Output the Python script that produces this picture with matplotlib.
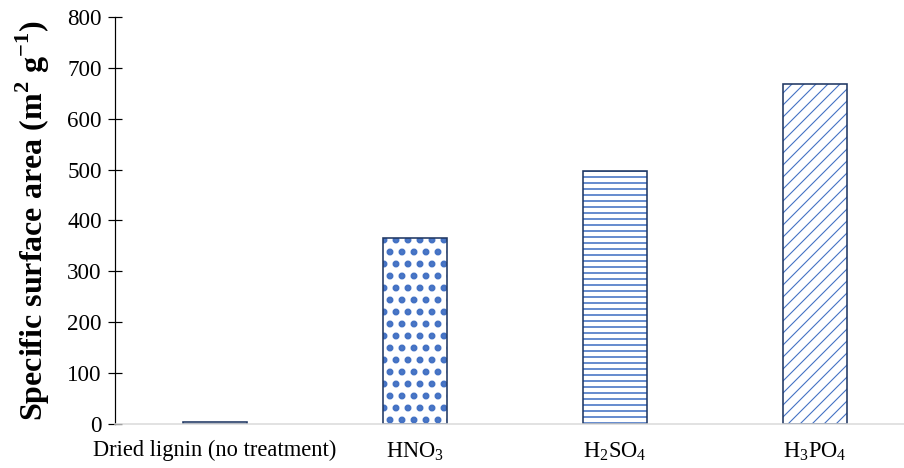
"""Specific surface area of lignin-derived carbons by activating acid."""
import matplotlib
matplotlib.use("Agg")
import matplotlib.pyplot as plt

categories = ["Dried lignin (no treatment)", "HNO$_3$", "H$_2$SO$_4$", "H$_3$PO$_4$"]
surface_area = [3, 366, 497, 668]
hatches = ["", ".", "--", "//"]
hatch_widths = [1.0, 4.5, 1.6, 1.1]
yticks = [0, 100, 200, 300, 400, 500, 600, 700, 800]

plt.rcParams["font.family"] = ["Liberation Serif", "DejaVu Serif"]
plt.rcParams["mathtext.fontset"] = "custom"
plt.rcParams["mathtext.rm"] = "Liberation Serif"
plt.rcParams["mathtext.bf"] = "Liberation Serif:bold"

DPI = 72
fig = plt.figure(figsize=(904 / DPI, 468 / DPI), dpi=DPI)
ax = fig.add_axes([0.127, 0.094, 0.873, 0.870])

x = list(range(len(categories)))
# hatched fill first, then the dark outline on top
for xi, v, h, hw in zip(x, surface_area, hatches, hatch_widths):
    with plt.rc_context({"hatch.linewidth": hw}):
        ax.bar(xi, v, width=0.32, color="white", edgecolor="#4472C4", hatch=h, linewidth=0)
ax.bar(x, surface_area, width=0.32, fill=False, edgecolor="#203864", linewidth=1.6)

ax.set_xlim(-0.5, 3.445)
ax.set_ylim(0, 800)
ax.set_yticks(yticks)
ax.set_xticks(x)
ax.set_xticklabels(categories, fontsize=22.5)
ax.tick_params(axis="y", labelsize=23, direction="inout", length=14, width=1.2,
               color="black", pad=6)
ax.tick_params(axis="x", length=0, pad=16)
for s in ["top", "right"]:
    ax.spines[s].set_visible(False)
ax.spines["left"].set_color("black")
ax.spines["left"].set_linewidth(1.2)
ax.spines["bottom"].set_color("#D9D9D9")
ax.spines["bottom"].set_linewidth(1.5)

ax.set_ylabel("Specific surface area (m$^{\\mathbf{2}}$ g$^{\\mathbf{-1}}$)",
              fontsize=32, fontweight="bold", labelpad=15)

fig.savefig("out.png", dpi=DPI)
